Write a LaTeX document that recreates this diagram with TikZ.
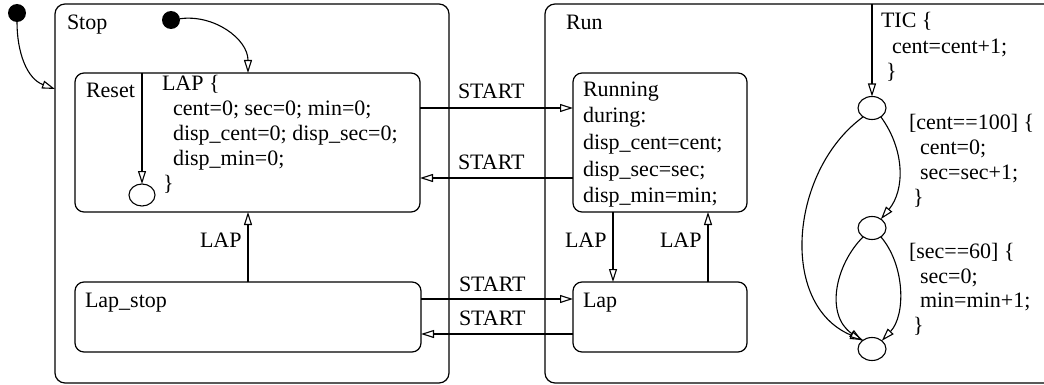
\documentclass[tikz,border=0pt]{standalone}
\usepackage{fontspec}
\setmainfont{Liberation Serif}
\usetikzlibrary{arrows.meta,shapes.geometric}
\begin{document}
\begin{tikzpicture}[x=1pt,y=-1pt,
  box/.style={draw, line width=1.2pt, rounded corners=9pt, rectangle, inner sep=0pt, outer sep=0pt},
  dot/.style={circle, fill=black, minimum size=18pt, inner sep=0pt, outer sep=0pt},
  junc/.style={ellipse, draw, line width=1.1pt, minimum width=28pt, minimum height=23pt, inner sep=0pt, outer sep=0pt},
  arr/.style={line width=1.1pt, -{Triangle[open, length=13pt, width=8pt, line width=1.1pt]}},
  lbl/.style={inner sep=0pt, outer sep=0pt, anchor=base west, font=\fontsize{22}{24.5}\selectfont}
]
\useasboundingbox (0,0) rectangle (1044,385);
\clip (0,0) rectangle (1044,385);

% super states
\node[box, rounded corners=10pt, minimum width=394pt, minimum height=379pt] (stop) at (252,193.5) {};
\node[box, rounded corners=10pt, minimum width=520pt, minimum height=379pt] (run) at (805,193.5) {};

% sub states
\node[box, minimum width=345pt, minimum height=139pt] (reset) at (247.5,142.5) {};
\node[box, minimum width=346pt, minimum height=70pt] (lapstop) at (248,317) {};
\node[box, minimum width=174pt, minimum height=139pt] (running) at (660,142.5) {};
\node[box, minimum width=174pt, minimum height=70pt] (lap) at (660,317) {};

% initial dots and junctions
\node[dot] (d1) at (17,13) {};
\node[dot] (d2) at (171,20) {};
\node[junc, minimum width=26pt, minimum height=22pt] (rc) at (142,195) {};
\node[junc] (c1) at (872,108) {};
\node[junc] (c2) at (872,228) {};
\node[junc] (c3) at (872,349) {};

\coordinate (stopin) at (55,89);
\coordinate (resetin) at (248,73);
\coordinate (resetself) at (142,73);

% labels
\node[lbl] (tstop) at (67,30) {Stop};
\node[lbl] (trun) at (566,30) {Run};
\node[lbl] (treset) at (86,98) {Reset};
\node[lbl] (tlap1) at (162,91) {LAP \{};
\node[lbl] (tlap2) at (173,116) {cent=0; sec=0; min=0;};
\node[lbl] (tlap3) at (173,141) {disp\_cent=0; disp\_sec=0;};
\node[lbl] (tlap4) at (173,165) {disp\_min=0;};
\node[lbl] (tlap5) at (163,190) {\}};
\node[lbl] (trn1) at (583,97) {Running};
\node[lbl] (trn2) at (583,123) {during:};
\node[lbl] (trn3) at (583,149.5) {disp\_cent=cent;};
\node[lbl] (trn4) at (583,176) {disp\_sec=sec;};
\node[lbl] (trn5) at (583,202) {disp\_min=min;};
\node[lbl] (tlapstop) at (85,307) {Lap\_stop};
\node[lbl] (tlapst) at (583,307) {Lap};
\node[lbl] (ts1) at (458,99) {START};
\node[lbl] (ts2) at (458,169) {START};
\node[lbl] (ts3) at (459,291) {START};
\node[lbl] (ts4) at (459,325) {START};
\node[lbl] (tl1) at (200,247) {LAP};
\node[lbl] (tl2) at (565,247) {LAP};
\node[lbl] (tl3) at (660,247) {LAP};
\node[lbl] (tt1) at (881,28) {TIC \{};
\node[lbl] (tt2) at (892,54) {cent=cent+1;};
\node[lbl] (tt3) at (886,79) {\}};
\node[lbl] (tc1) at (909,130) {[cent==100] \{};
\node[lbl] (tc2) at (920,154.5) {cent=0;};
\node[lbl] (tc3) at (920,179) {sec=sec+1;};
\node[lbl] (tc4) at (913,204) {\}};
\node[lbl] (tm1) at (909,258) {[sec==60] \{};
\node[lbl] (tm2) at (920,283) {sec=0;};
\node[lbl] (tm3) at (920,307.5) {min=min+1;};
\node[lbl] (tm4) at (913,332) {\}};

% connectors
\draw[arr] (d1) to[out=-90, in=160] (stopin);
\draw[arr] (d2) to[out=8, in=90] (resetin);
\draw[arr] (resetself) -- (rc.north);
\draw[arr] ([yshift=34.5pt]reset.east) -- ([yshift=34.5pt]running.west);
\draw[arr] ([yshift=-35.5pt]running.west) -- ([yshift=-35.5pt]reset.east);
\draw[arr] (lapstop.north) -- (lapstop.north |- reset.south);
\draw[arr] ([yshift=18pt]lapstop.east) -- ([yshift=18pt]lap.west);
\draw[arr] ([yshift=-17pt]lap.west) -- ([yshift=-17pt]lapstop.east);
\draw[arr] ([xshift=-47pt]running.south) -- ([xshift=-47pt]lap.north);
\draw[arr] ([xshift=48pt]lap.north) -- ([xshift=48pt]running.south);
\draw[arr] (c1 |- run.north) -- (c1.north);
\draw[arr] (c1.-45) .. controls (905,150) and (905,190) .. (c2.45);
\draw[arr] (c1.-135) .. controls (790,170) and (778,305) .. (c3.135);
\draw[arr] (c2.-135) .. controls (835,265) and (825,315) .. (c3.140);
\draw[arr] (c2.-45) .. controls (905,265) and (906,315) .. (c3.40);
\end{tikzpicture}
\end{document}
